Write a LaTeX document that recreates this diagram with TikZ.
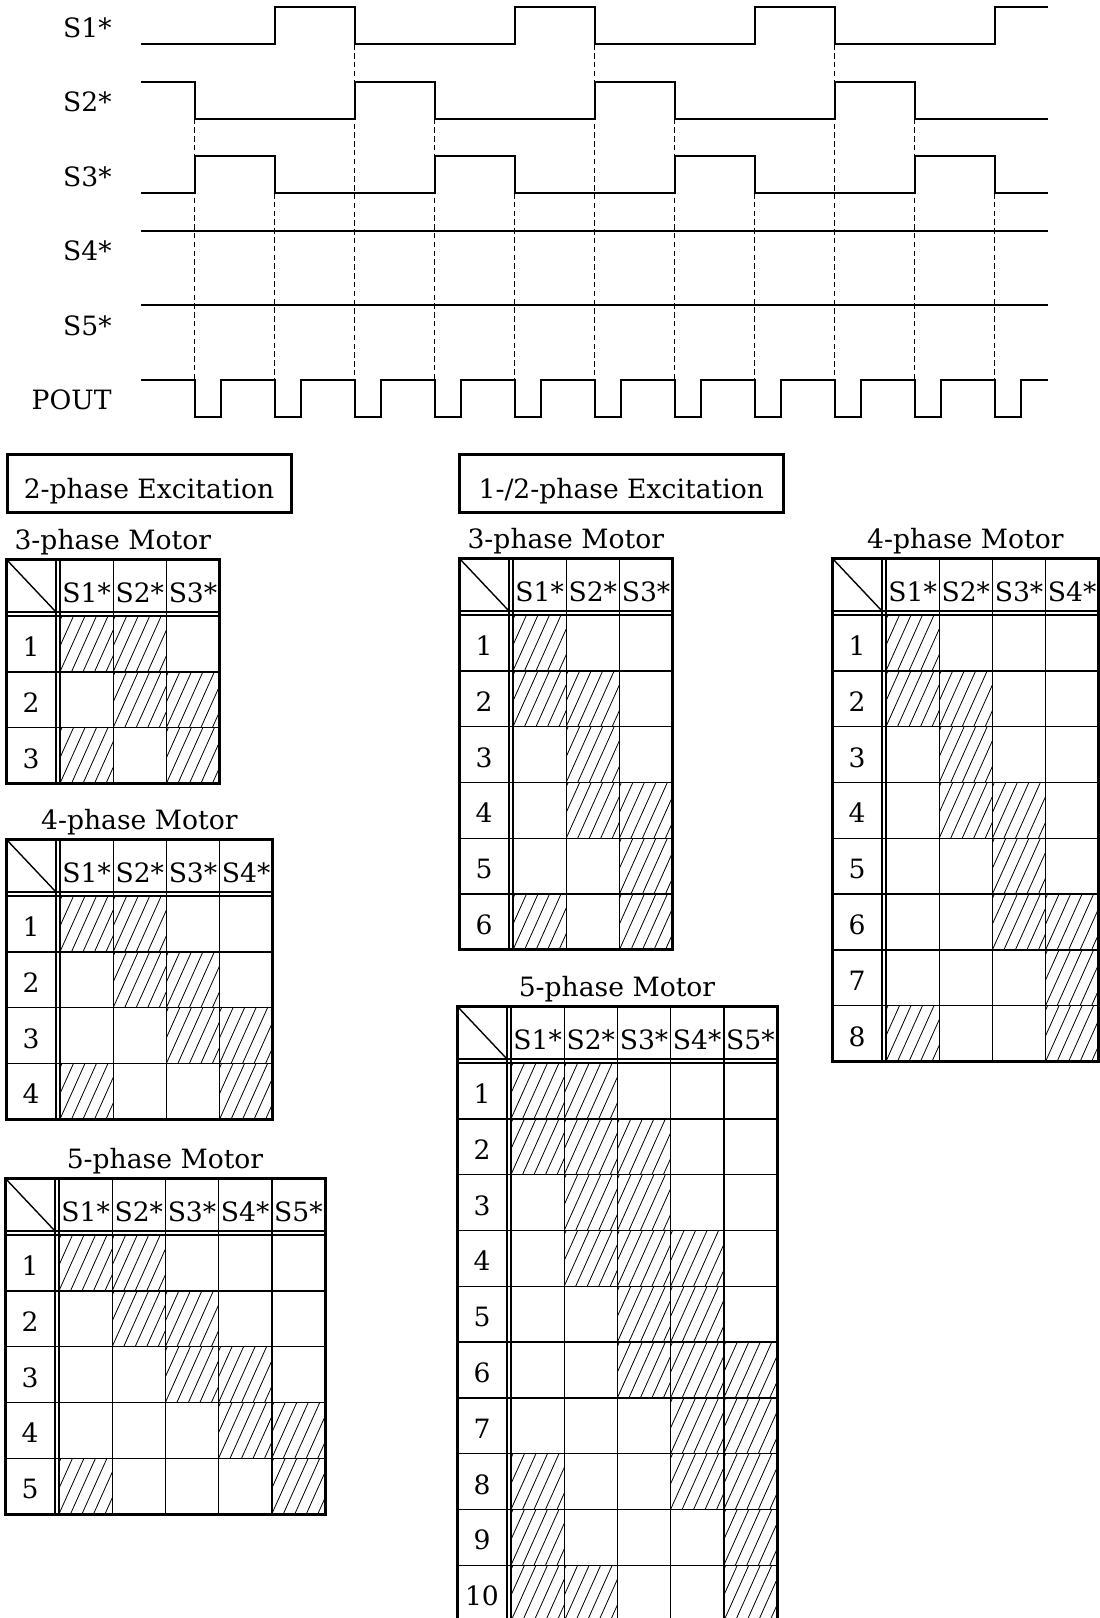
\documentclass[tikz,border=0pt]{standalone}
\usepackage{fontspec}
\setmainfont{DejaVu Serif}
\usepackage{tikz}

% #1 name, #2 left, #3 top, #4 columns, #5 rows, #6 title, #7 hatched cells row/col
\newcommand{\phasetable}[7]{%
  \pgfmathsetmacro{\tR}{#2+54+#4*53.2}%
  \pgfmathsetmacro{\tB}{#3+57+#5*55.8}%
  \pgfmathtruncatemacro{\nr}{#5-1}%
  \pgfmathtruncatemacro{\nc}{#4-1}%
  % hatched cells
  \foreach \row/\col in {#7}{%
    \pgfmathsetmacro{\xa}{#2+54+(\col-1)*53.2}%
    \pgfmathsetmacro{\ya}{#3+57+(\row-1)*55.8}%
    \begin{scope}
      \clip (\xa,\ya) rectangle ++(53.2,55.8);
      \foreach \i in {-3,...,5}
        \draw [hatch] ({\xa+\i*11.5},{\ya+55.8}) -- ++(25,-55.8);
    \end{scope}
  }%
  % grid
  \foreach \k in {1,...,\nr}
    \draw [cellline] (#2,{#3+57+\k*55.8}) -- (\tR,{#3+57+\k*55.8});
  \foreach \k in {1,...,\nc}
    \draw [cellline] ({#2+54+\k*53.2},#3) -- ({#2+54+\k*53.2},\tB);
  \draw [dblline] (#2,{#3+53}) -- (\tR,{#3+53}) (#2,{#3+57}) -- (\tR,{#3+57});
  \draw [dblline] ({#2+50},#3) -- ({#2+50},\tB) ({#2+54},#3) -- ({#2+54},\tB);
  \draw [cellline] (#2,#3) -- ({#2+50},{#3+53});
  \draw [outer] (#2,#3) rectangle (\tR,\tB);
  % texts
  \node [txt] (#1-title) at ({(#2+\tR)/2},{#3-10}) {#6};
  \foreach \col in {1,...,#4}
    \node [txt] (#1-h\col) at ({#2+54+(\col-0.5)*53.2},{#3+43}) {S\col*};
  \foreach \row in {1,...,#5}
    \node [txt] (#1-r\row) at ({#2+25},{#3+57+(\row-1)*55.8+40.5}) {\row};
}

\begin{document}
\begin{tikzpicture}[
            x=0.5pt, y=-0.5pt,
            font=\fontsize{13.3}{16}\selectfont,
            sig/.style = {line width=1pt},
            guide/.style = {line width=0.5pt, dash pattern=on 2.75pt off 1.65pt},
            lbl/.style = {anchor=base east, inner sep=0},
            txt/.style = {anchor=base, inner sep=0},
            exbox/.style = {rectangle, draw, line width=1.5pt, minimum height=29pt, inner sep=0,
                            text height=15.2pt, text depth=0pt},
            hatch/.style = {line width=0.4pt},
            cellline/.style = {line width=0.7pt},
            dblline/.style = {line width=0.6pt},
            outer/.style = {line width=1.5pt}]
            \useasboundingbox (0,0) rectangle (1099,1618);
            % labels
            \node [lbl] (lS1) at (112,37.3) {S1*};
            \node [lbl] (lS2) at (112,111.8) {S2*};
            \node [lbl] (lS3) at (112,186.3) {S3*};
            \node [lbl] (lS4) at (112,260.8) {S4*};
            \node [lbl] (lS5) at (112,335.3) {S5*};
            \node [lbl] (lPOUT) at (112,409.5) {POUT};
            % guides
            \foreach \k/\top in {0/118.5, 1/193, 2/44.3, 3/118.5, 4/193, 5/44.3,
                                 6/118.5, 7/193, 8/44.3, 9/118.5, 10/193}
              \draw [guide] ({194.7+80*\k},\top) -- ({194.7+80*\k},380.3);
            % signals
            \draw [sig] (141,44.3) -| (274.7,7.3) -| (354.7,44.3) -| (514.7,7.3) -| (594.7,44.3)
                        -| (754.7,7.3) -| (834.7,44.3) -| (994.7,7.3) -- (1048,7.3);
            \draw [sig] (141,81.5) -| (194.7,118.5) -| (354.7,81.5) -| (434.7,118.5) -| (594.7,81.5)
                        -| (674.7,118.5) -| (834.7,81.5) -| (914.7,118.5) -- (1048,118.5);
            \draw [sig] (141,193) -| (194.7,156) -| (274.7,193) -| (434.7,156) -| (514.7,193)
                        -| (674.7,156) -| (754.7,193) -| (914.7,156) -| (994.7,193) -- (1048,193);
            \draw [sig] (141,230.7) -- (1048,230.7);
            \draw [sig] (141,305.3) -- (1048,305.3);
            \draw [sig] (141,380.3) \foreach \k in {0,...,10}{ -| ({194.7+80*\k},417) -| ({221.4+80*\k},380.3)}
                        -- (1048,380.3);
            % excitation boxes
            \node (ex2) [exbox, minimum width=142pt] at (149,483.3) {2-phase Excitation};
            \node (ex12) [exbox, minimum width=162pt] at (621.3,483.3) {1-/2-phase Excitation};
            % tables
            \phasetable{tA}{6}{559}{3}{3}{3-phase Motor}{1/1,1/2,2/2,2/3,3/1,3/3}
            \phasetable{tB}{6}{839}{4}{4}{4-phase Motor}{1/1,1/2,2/2,2/3,3/3,3/4,4/1,4/4}
            \phasetable{tC}{5}{1178}{5}{5}{5-phase Motor}{1/1,1/2,2/2,2/3,3/3,3/4,4/4,4/5,5/1,5/5}
            \phasetable{tD}{459}{558}{3}{6}{3-phase Motor}{1/1,2/1,2/2,3/2,4/2,4/3,5/3,6/1,6/3}
            \phasetable{tE}{832}{558}{4}{8}{4-phase Motor}{1/1,2/1,2/2,3/2,4/2,4/3,5/3,6/3,6/4,7/4,8/1,8/4}
            \phasetable{tF}{457}{1006}{5}{10}{5-phase Motor}{1/1,1/2,2/1,2/2,2/3,3/2,3/3,4/2,4/3,4/4,5/3,5/4,6/3,6/4,6/5,7/4,7/5,8/1,8/4,8/5,9/1,9/5,10/1,10/2,10/5}
        \end{tikzpicture}
\end{document}
